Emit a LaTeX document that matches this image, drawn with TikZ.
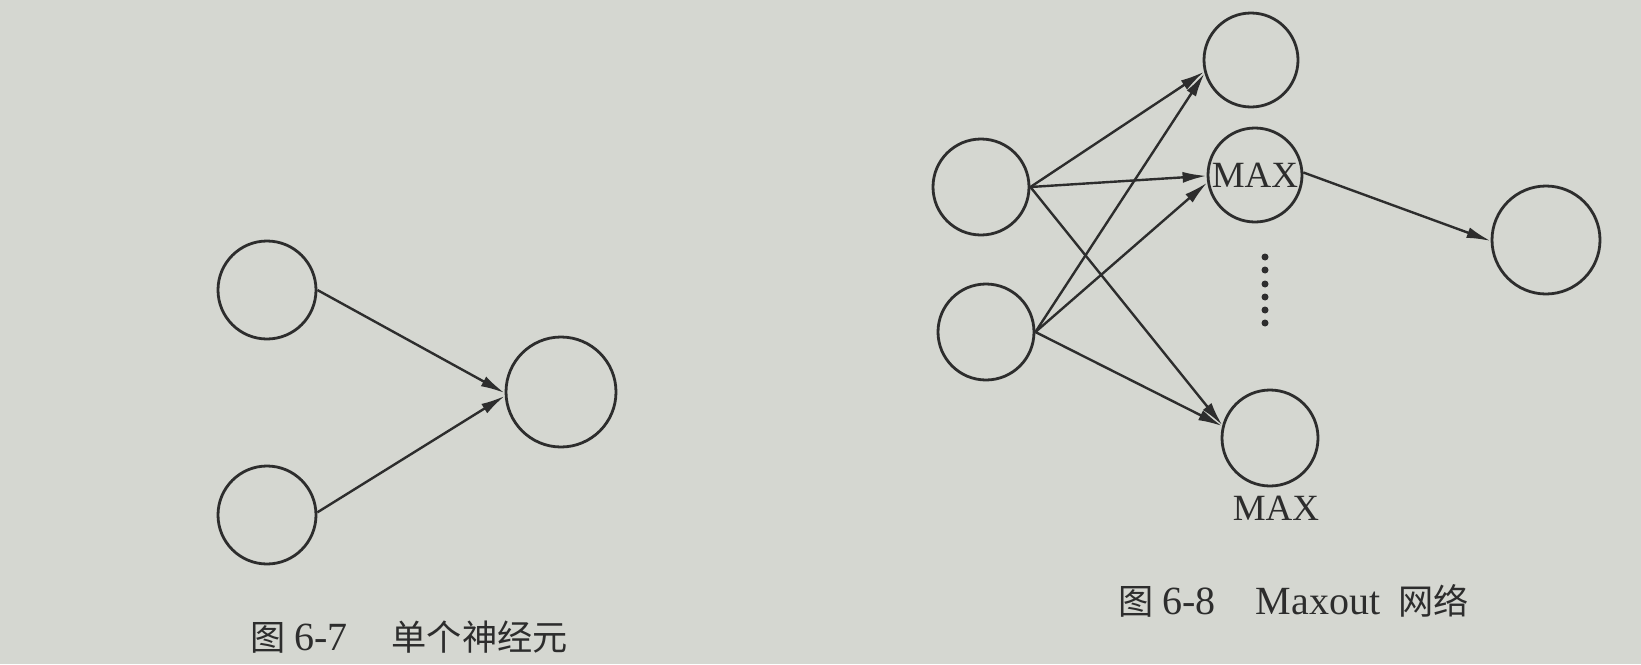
\documentclass[tikz,border=0pt]{standalone}
\usepackage{fontspec}
\setmainfont{Liberation Serif}
\newfontfamily\cjk[Scale=0.88]{Noto Sans CJK SC}
\usetikzlibrary{arrows.meta}
\definecolor{paper}{RGB}{213,215,209}
\definecolor{ink}{RGB}{45,45,45}
\begin{document}
\begin{tikzpicture}[x=1pt,y=-1pt,
  neuron/.style={circle,draw=ink,line width=2.8pt,inner sep=0pt,minimum size=#1},
  neuron/.default=96pt,
  conn/.style={draw=ink,line width=2.4pt,-{Latex[length=24pt,width=11pt]}},
  maxlbl/.style={text=ink,font=\fontsize{37}{40}\selectfont},
  figcaption/.style={text=ink,font=\fontsize{40}{44}\selectfont,inner sep=0pt,anchor=base west},
  dotnode/.style={circle,fill=ink,inner sep=0pt,minimum size=7pt}]
\fill[paper] (0,0) rectangle (1641,664);
\useasboundingbox (0,0) rectangle (1641,664);
% Figure 6-7
\node[neuron=98pt] (a1) at (267,290) {};
\node[neuron=98pt] (a2) at (267,515) {};
\node[neuron=110pt] (a3) at (561,392) {};
\draw[conn] (a1.east) -- (a3.181);
\draw[conn] (a2.3) -- (a3.184);
\node[figcaption] (c1) at (250,650) {{\cjk 图}\hspace{9pt}6-7\hspace{44pt}{\cjk 单个神经元}};
% Figure 6-8
\node[neuron=96pt] (i1) at (981,187) {};
\node[neuron=96pt] (i2) at (986,332) {};
\node[neuron=94pt] (t) at (1251,60) {};
\node[neuron=94pt,maxlbl,inner sep=0pt] (m) at (1255,175) {MAX};
\node[neuron=96pt] (b) at (1270,438) {};
\node[neuron=108pt] (y) at (1546,240) {};
\draw[conn] (i1.east) -- (t.194);
\draw[conn] (i1.east) -- (m.181);
\draw[conn] (i1.east) -- (b.165);
\draw[conn] (i2.east) -- (t.196);
\draw[conn] (i2.east) -- (m.189);
\draw[conn] (i2.east) -- (b.166);
\draw[conn] (m.3) -- (y.181);
\foreach \k/\yy in {1/257,2/270,3/284,4/297,5/310,6/323}
  \node[dotnode] (d\k) at (1265,\yy) {};
\node[maxlbl,inner sep=0pt] (mx) at (1276,508) {MAX};
\node[figcaption] (c2) at (1118,614) {{\cjk 图}\hspace{9pt}6-8\hspace{40pt}Maxout\hspace{18pt}{\cjk 网络}};
\end{tikzpicture}
\end{document}
